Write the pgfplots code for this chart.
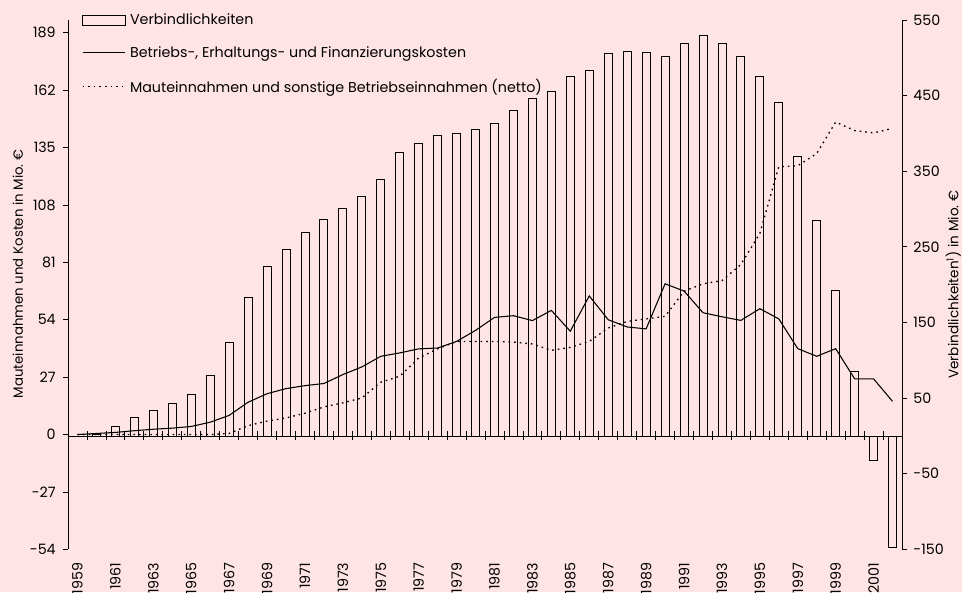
\documentclass[border=0pt]{standalone}
\usepackage{fontspec}
\setmainfont{Poppins}
\usepackage{pgfplots}
\usepackage{pgfplotstable}
\pgfplotsset{compat=1.18}
\definecolor{bgpink}{RGB}{255,228,230}

\pgfplotstableread{
year debt cost toll
1959 0 0 0
1960 2 0.5 0
1961 12 1.0 0
1962 25 1.8 0
1963 34 2.5 0
1964 43 3.0 0
1965 55 3.8 0
1966 80 5.8 0
1967 123 9.0 0.5
1968 183 15.2 4.2
1969 224 19.2 6.3
1970 247 21.6 7.8
1971 269 23.0 10.0
1972 286 24.0 13.0
1973 301 28.2 14.9
1974 317 31.8 17.2
1975 339 36.8 24.6
1976 375 38.4 27.4
1977 387 40.3 36.0
1978 397 40.7 40.3
1979 400 43.8 43.8
1980 405 49.0 43.8
1981 413 55.1 43.8
1982 431 55.9 43.5
1983 446 53.6 42.6
1984 456 58.4 39.6
1985 475 48.6 41.0
1986 483 65.2 43.8
1987 506 54.0 50.1
1988 509 50.6 53.2
1989 507 49.7 54.4
1990 502 70.9 55.6
1991 519 67.5 67.4
1992 529 57.3 70.9
1993 519 55.4 72.4
1994 502 53.7 80.0
1995 476 59.2 94.6
1996 441 54.4 126.0
1997 370 40.4 126.4
1998 285 36.8 132.2
1999 192 40.4 147.0
2000 85 26.2 143.0
2001 -32 26.2 141.9
2002 -147 15.6 144.0
}\datatable

\begin{document}
\begin{tikzpicture}[font=\fontsize{10.7}{12.5}\selectfont]
\fill[bgpink] (0,0) rectangle (721.5pt,444pt);

% bars, right axis
\begin{axis}[
  at={(51pt,32pt)}, anchor=south west,
  scale only axis, width=625.5pt, height=397pt,
  xmin=1958.5, xmax=2002.5, ymin=-150, ymax=550,
  axis x line=none, axis y line*=right,
  y axis line style={-, line width=0.6pt},
  ytick={-150,-50,...,550},
  ytick align=outside, major tick length=3.4pt,
  ytick style={line width=0.6pt, black},
  yticklabel style={/pgf/number format/assume math mode=true, xshift=1.6pt},
  ylabel={Verbindlichkeiten\textsuperscript{1}) in Mio.~€},
  ylabel style={at={(axis description cs:1.0615,0.5)}, anchor=center, font=\fontsize{10.2}{12}\selectfont},
  ybar, bar width=6pt,
]
\addplot[draw=black, fill=none, line width=0.6pt] table[x=year, y=debt] {\datatable};
\end{axis}

% zero line with boundary ticks
\begin{axis}[
  at={(51pt,32pt)}, anchor=south west,
  scale only axis, width=625.5pt, height=397pt,
  xmin=1958.5, xmax=2002.5, ymin=-150, ymax=550,
  axis x line=middle, axis y line=none,
  x axis line style={-, line width=0.6pt},
  xtick={1959.5,1960.5,...,2001.5}, xticklabels={},
  xtick align=center, major tick length=6.75pt,
  xtick style={line width=0.6pt, black},
]
\end{axis}

% lines, left axis
\begin{axis}[
  at={(51pt,32pt)}, anchor=south west,
  scale only axis, width=625.5pt, height=397pt,
  xmin=1958.5, xmax=2002.5, ymin=-54, ymax=195,
  axis x line*=bottom, axis y line*=left,
  x axis line style={draw=none},
  y axis line style={-, line width=0.6pt},
  xtick={1959,1961,...,2001},
  xtick style={draw=none}, xtick align=inside,
  xticklabel style={/pgf/number format/1000 sep={}, /pgf/number format/assume math mode=true,
    yshift=-9.8pt, rotate=90, anchor=east, inner sep=0pt},
  ytick={-54,-27,...,189},
  ytick align=outside, major tick length=3.4pt,
  ytick style={line width=0.6pt, black},
  yticklabel style={/pgf/number format/assume math mode=true, xshift=-2.3pt},
  ylabel={Mauteinnahmen und Kosten in Mio.~€},
  ylabel style={at={(axis description cs:-0.06,0.52)}, anchor=center, font=\fontsize{10}{12}\selectfont},
  legend image code/.code={\draw[#1] (0pt,0pt) -- (32pt,0pt);},
  legend style={at={(axis description cs:0.0165,1.017)}, anchor=north west,
    draw=none, fill=none, inner sep=0pt, row sep=10.8pt,
    cells={anchor=west}, font=\fontsize{10.7}{12.5}\selectfont,
    /tikz/every odd column/.append style={column sep=1pt}},
]
\addlegendimage{legend image code/.code={\draw[black, line width=0.6pt] (0pt,-3.5pt) rectangle (32pt,3.5pt);}}
\addlegendentry{Verbindlichkeiten}
\addplot[black, line width=0.8pt] table[x=year, y=cost] {\datatable};
\addlegendentry{Betriebs-, Erhaltungs- und Finanzierungskosten}
\addplot[black, line width=1pt, dash pattern=on 1.2pt off 3pt] table[x=year, y=toll] {\datatable};
\addlegendentry{Mauteinnahmen und sonstige Betriebseinnahmen (netto)}
\end{axis}

\pgfresetboundingbox
\path[use as bounding box] (0,0) rectangle (721.5pt,444pt);
\end{tikzpicture}
\end{document}
